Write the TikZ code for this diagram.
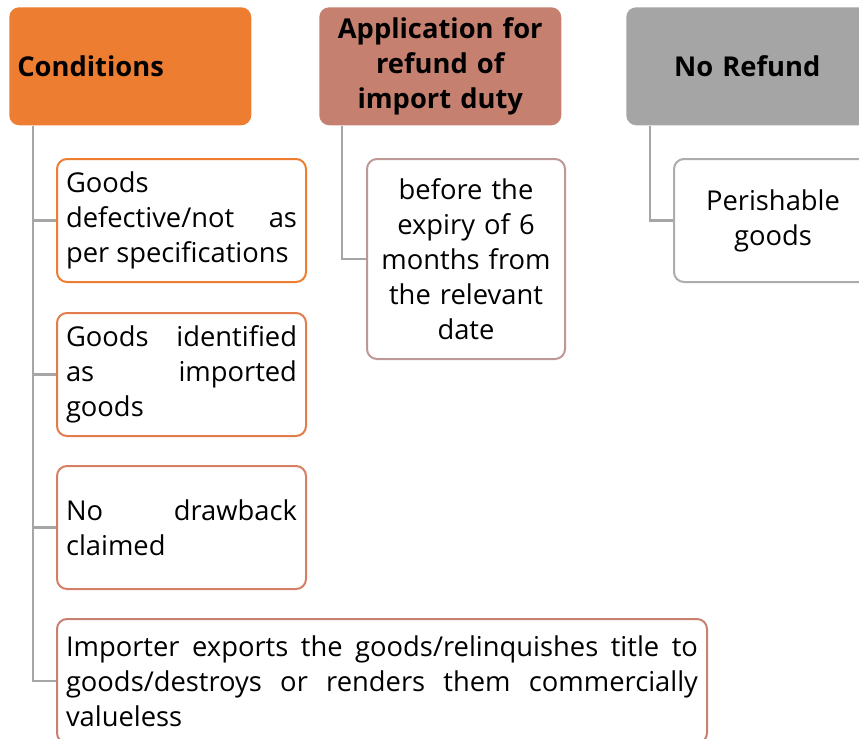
\documentclass[tikz,border=0pt]{standalone}
\usepackage{fontspec}
\setmainfont{Open Sans}
\usepackage{xcolor}
\definecolor{condorange}{RGB}{237,125,49}
\definecolor{appbrown}{RGB}{197,128,112}
\definecolor{refundgray}{RGB}{165,165,165}
\definecolor{condtwo}{RGB}{226,125,75}
\definecolor{condthree}{RGB}{213,128,100}
\definecolor{condfour}{RGB}{200,128,112}
\definecolor{appline}{RGB}{190,152,148}
\definecolor{refundline}{RGB}{172,172,172}
\definecolor{linkgray}{RGB}{166,166,166}
\usepackage{tikz}

\begin{document}
\begin{tikzpicture}[
    x=0.75pt,y=-0.75pt,
    every node/.style={font=\fontsize{20.5}{26.25}\selectfont},
    head/.style={anchor=north west,rounded corners=7.5pt,
      minimum width=181.5pt,minimum height=88.5pt,
      inner xsep=6pt,inner ysep=2pt,text width=169.5pt,
      font=\fontsize{20.5}{26.25}\selectfont\bfseries},
    item/.style={anchor=north west,draw,line width=1.5pt,fill=white,
      rounded corners=7.5pt,minimum height=92.25pt,
      inner xsep=6.75pt,inner ysep=2pt,text width=173.25pt,align=justify},
    link/.style={draw=linkgray,line width=1.8pt}
  ]
  \useasboundingbox (0,0) rectangle (859,738);
  \clip (0,0) rectangle (859,738);

  \node[head,fill=condorange,align=left] (cond) at (9,7) {Conditions};
  \node[head,fill=appbrown,align=center] (app) at (319,7)
    {Application for\\ refund of\\ import duty};
  \node[head,fill=refundgray,align=center] (norefund) at (626,7) {No Refund};

  \node[item,draw=condorange] (c1) at (56,158)
    {Goods\newline defective/not as\linebreak per specifications};
  \node[item,draw=condtwo] (c2) at (56,312)
    {Goods identified\linebreak as imported\linebreak goods};
  \node[item,draw=condthree] (c3) at (56,465)
    {No drawback\linebreak claimed};
  \node[item,draw=condfour,text width=474pt,minimum height=93pt] (c4) at (56,618)
    {Importer exports the goods/relinquishes title to\linebreak
     goods/destroys or renders them commercially\linebreak valueless};

  \node[item,draw=appline,align=center,text width=135pt,minimum height=150pt] (a1)
    at (366,158) {before the\\ expiry of 6\\ months from\\ the relevant\\ date};
  \node[item,draw=refundline,align=center,text width=135pt] (n1)
    at (673,158) {Perishable\\ goods};

  \draw[link] ([xshift=18pt]cond.south west) |- (c1.west);
  \draw[link] ([xshift=18pt]cond.south west) |- (c2.west);
  \draw[link] ([xshift=18pt]cond.south west) |- (c3.west);
  \draw[link] ([xshift=18pt]cond.south west) |- (c4.west);
  \draw[link] ([xshift=17.25pt]app.south west) |- (a1.west);
  \draw[link] ([xshift=18pt]norefund.south west) |- (n1.west);
\end{tikzpicture}
\end{document}
